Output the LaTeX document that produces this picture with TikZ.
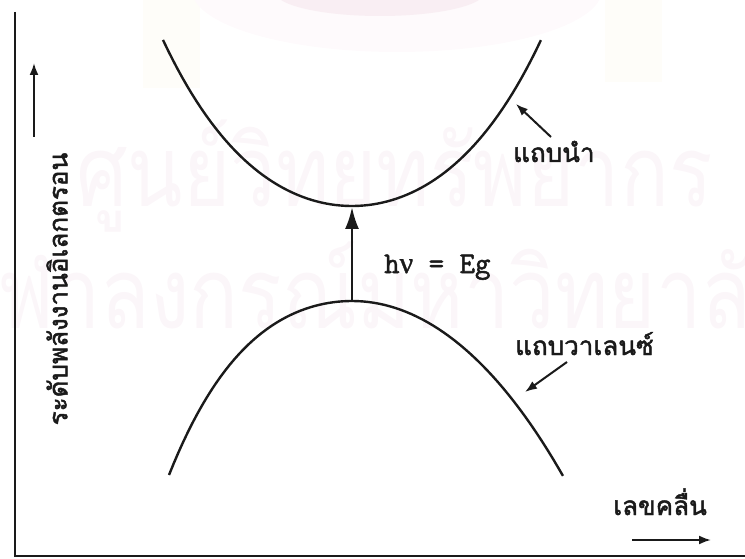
\documentclass[tikz,border=0pt]{standalone}
\usepackage{fontspec}
\newfontfamily\thaifont[Script=Thai]{Loma}
\newfontfamily\tagfont[Script=Thai, FakeBold=1.8]{Loma}
\newfontfamily\eqfont{Latin Modern Mono}[FakeBold=1.8]
\newfontfamily\nufont{Liberation Serif}[FakeBold=1.2]
\usetikzlibrary{positioning, arrows.meta}
\definecolor{inkBlack}{HTML}{1A1A1A}
\definecolor{wmPink}{HTML}{FBF6F9}
\definecolor{wmRose}{HTML}{FEFAFC}
\definecolor{wmCrown}{HTML}{F9EEF3}
\definecolor{wmCream}{HTML}{FEFDF9}

\begin{document}
\begin{tikzpicture}[
    x=1pt, y=-1pt,
    frame/.style={draw=inkBlack, line width=2.7pt},
    band/.style={draw=inkBlack, line width=2.4pt},
    tag/.style={font=\tagfont\fontsize{26}{26}\selectfont, text=inkBlack, inner sep=0pt},
    ptr/.style={-{Latex[length=12pt, width=9pt]}, draw=inkBlack, line width=2pt},
    gap/.style={-{Latex[length=22pt, width=14pt]}, draw=inkBlack, line width=2.6pt},
    wm/.style={font=\thaifont\fontsize{81}{81}\selectfont, text=wmPink, inner sep=0pt, yscale=1.22},
  ]
  \useasboundingbox (0,0) rectangle (745,559);

  % watermark of the scan
  \fill[wmCream] (143,0) rectangle (200,88);
  \fill[wmCream] (605,0) rectangle (662,82);
  \fill[wmRose] (397,-10) ellipse (205 and 62);
  \fill[wmCrown] (380,-8) ellipse (105 and 24);
  \node[wm, anchor=base west] (wmtop) at (76,207) {ศูนย์วิทยทรัพยากร};
  \node[wm, anchor=base west] (wmbot) at (-48,328) {จุฬาลงกรณ์มหาวิทยาลัย};

  % axes
  \coordinate (corner) at (15,556);
  \draw[frame] (15,12) -- (corner) -- (745,556);
  \coordinate (ytail) at (34,137);
  \coordinate (yhead) at (34,63);
  \draw[ptr] (ytail) -- (yhead);
  \node[tag, rotate=90] (ylbl) at (57,289) {ระดับพลังงานอิเลกตรอน};
  \node[tag, anchor=base west] (xlbl) at (613,515) {เลขคลื่น};
  \coordinate (xtail) at (632,540);
  \coordinate (xhead) at (711,540);
  \draw[ptr] (xtail) -- (xhead);

  % conduction band
  \draw[band] plot[domain=-1.89:1.89, samples=80]
    ({352+100*\x}, {206-36.7*\x*\x-2.74*\x*\x*\x*\x});
  % valence band
  \draw[band] plot[domain=-1.83:0, samples=40]
    ({352+100*\x}, {301+35.15*\x*\x+5.02*\x*\x*\x*\x})
    -- plot[domain=0:2.11, samples=40]
    ({352+100*\x}, {301+36.98*\x*\x+0.52*\x*\x*\x*\x});

  % band gap
  \coordinate (vtop) at (352,301);
  \coordinate (cbot) at (352,207);
  \draw[gap] (vtop) -- (cbot);
  \node[font=\eqfont\fontsize{30}{30}\selectfont, text=inkBlack,
        inner sep=0pt, anchor=base west] (gaplbl) at (384,273) {h{\nufont ν} = Eg};

  % band labels
  \node[tag, anchor=base west] (cblbl) at (513,162) {แถบนำ};
  \coordinate (cbtail) at (551,137);
  \coordinate (cbtip) at (516,104);
  \draw[ptr] (cbtail) -- (cbtip);
  \node[tag, anchor=base west] (vblbl) at (515,355) {แถบวาเลนซ์};
  \coordinate (vbtail) at (567,362);
  \coordinate (vbtip) at (525,392);
  \draw[ptr] (vbtail) -- (vbtip);
\end{tikzpicture}
\end{document}
